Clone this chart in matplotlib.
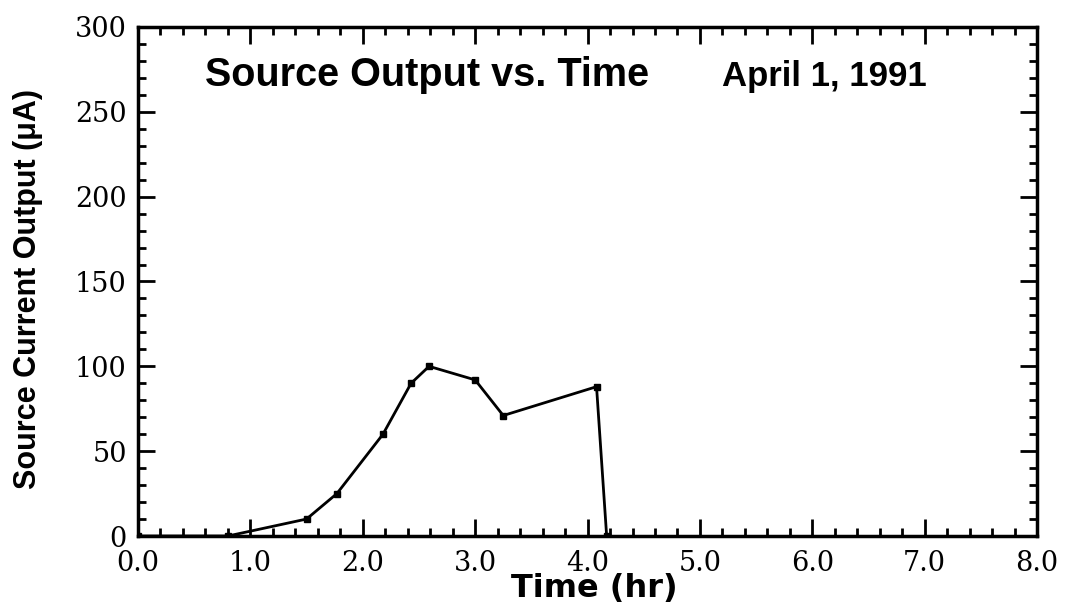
import matplotlib.pyplot as plt
from matplotlib.ticker import MultipleLocator

time_hr = [0.0, 0.8, 1.5, 1.77, 2.18, 2.43, 2.59, 3.0, 3.25, 4.08, 4.17]
current_uA = [0, 0, 10, 25, 60, 90, 100, 92, 71, 88, 0]

x_ticks = [0, 1, 2, 3, 4, 5, 6, 7, 8]
y_ticks = [0, 50, 100, 150, 200, 250, 300]

fig = plt.figure(figsize=(10.67, 6.06), dpi=100)
ax = fig.add_axes([0.1293, 0.1155, 0.8427, 0.84])

ax.plot(time_hr, current_uA, color="black", linewidth=2,
        marker="s", markersize=5)

ax.set_xlim(0, 8)
ax.set_ylim(0, 300)
ax.set_xticks(x_ticks)
ax.set_xticklabels([f"{t:.1f}" for t in x_ticks])
ax.set_yticks(y_ticks)
ax.xaxis.set_minor_locator(MultipleLocator(0.2))
ax.yaxis.set_minor_locator(MultipleLocator(10))
ax.tick_params(which="both", direction="in", top=True, right=True, width=2)
ax.tick_params(which="major", length=12)
ax.tick_params(which="minor", length=6)
ax.tick_params(axis="both", which="major", labelsize=19.5)
ax.tick_params(axis="x", which="major", pad=10)
ax.tick_params(axis="y", which="major", pad=8)
for lbl in ax.get_xticklabels() + ax.get_yticklabels():
    lbl.set_fontfamily("DejaVu Serif")
for sp in ax.spines.values():
    sp.set_linewidth(2.5)

ax.set_xlabel("Time (hr)", fontfamily="DejaVu Sans", fontweight="bold",
              fontsize=23, va="center")
ax.xaxis.set_label_coords(0.507, -0.104)
ax.set_ylabel("Source Current Output (\u03bcA)", fontfamily="Liberation Sans",
              fontweight="bold", fontsize=22, va="center")
ax.yaxis.set_label_coords(-0.1224, 0.485)

ax.text(0.0745, 0.905, "Source Output vs. Time", transform=ax.transAxes,
        fontfamily="Liberation Sans", fontweight="bold", fontsize=28.5,
        ha="left", va="center")
ax.text(0.6496, 0.903, "April 1, 1991", transform=ax.transAxes,
        fontfamily="Liberation Sans", fontweight="bold", fontsize=25,
        ha="left", va="center")

plt.savefig("out.png", dpi=100)
plt.close()
